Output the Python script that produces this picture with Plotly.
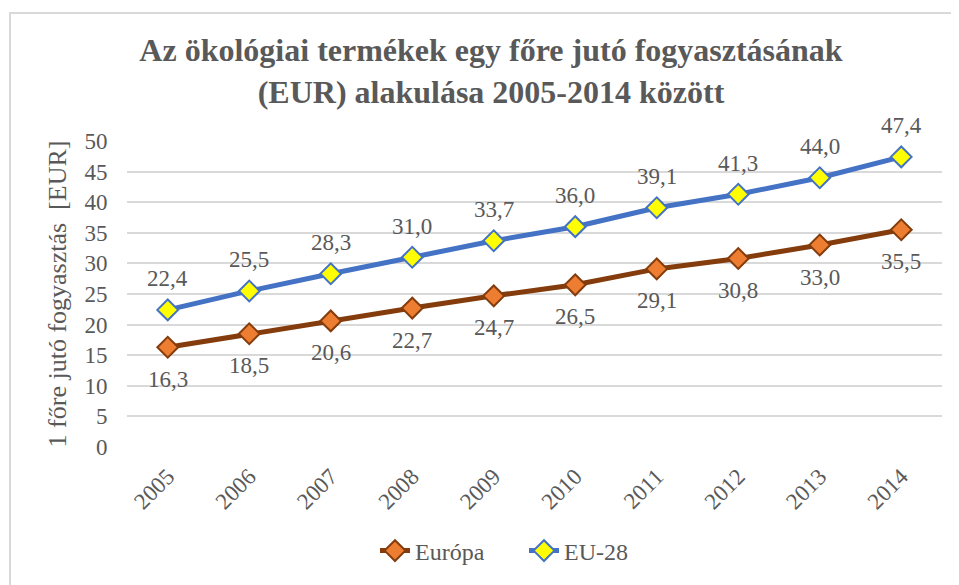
import plotly.graph_objects as go

years = ["2005", "2006", "2007", "2008", "2009", "2010", "2011", "2012", "2013", "2014"]
europa = [16.3, 18.5, 20.6, 22.7, 24.7, 26.5, 29.1, 30.8, 33.0, 35.5]
eu28 = [22.4, 25.5, 28.3, 31.0, 33.7, 36.0, 39.1, 41.3, 44.0, 47.4]
y_ticks = list(range(0, 55, 5))

FONT = "Times New Roman, Liberation Serif, Tinos, DejaVu Serif, serif"
GRAY = "#595959"

# page is offset by the default 8px body margin
OFF = 8
W, H = 959 - OFF, 585 - OFF
PL, PR, PT, PB = 127 - OFF, 942 - OFF, 141 - OFF, 447 - OFF
PW, PH = PR - PL, PB - PT

def fmt(v):
    return f"{v:.1f}".replace(".", ",")

fig = go.Figure()
fig.add_trace(go.Scatter(
    x=years, y=europa, name="Európa", mode="lines+markers",
    line=dict(color="#843c0c", width=5),
    marker=dict(symbol="diamond", size=16, color="#ed7d31",
                line=dict(color="#843c0c", width=2)),
))
fig.add_trace(go.Scatter(
    x=years, y=eu28, name="EU-28", mode="lines+markers",
    line=dict(color="#4472c4", width=5),
    marker=dict(symbol="diamond", size=16, color="#ffff00",
                line=dict(color="#4472c4", width=2)),
))

annotations = []
for i, v in enumerate(europa):
    annotations.append(dict(x=i, y=v, xref="x", yref="y", text=fmt(v), showarrow=False, yshift=-32,
                            font=dict(family=FONT, size=23, color=GRAY)))
for i, v in enumerate(eu28):
    annotations.append(dict(x=i, y=v, xref="x", yref="y", text=fmt(v), showarrow=False, yshift=31,
                            font=dict(family=FONT, size=23, color=GRAY)))

fig.update_layout(
    width=W, height=H,
    margin=dict(l=PL, r=W - PR, t=PT, b=H - PB, autoexpand=False),
    paper_bgcolor="white", plot_bgcolor="white",
    font=dict(family=FONT, color=GRAY, size=23),
    title=dict(
        text="<b>Az ökológiai termékek egy főre jutó fogyasztásának<br>(EUR) alakulása 2005-2014 között</b>",
        x=(491 - OFF) / W, xref="container", xanchor="center",
        y=1 - (61 - OFF) / H, yref="container", yanchor="middle",
        font=dict(family=FONT, size=32, color=GRAY),
    ),
    xaxis=dict(
        type="category", range=[-0.5, 9.5], tickangle=-45,
        showgrid=False, zeroline=False, showline=False, automargin=False,
        tickfont=dict(family=FONT, size=23, color=GRAY),
        ticks="outside", ticklen=6, tickcolor="rgba(0,0,0,0)",
    ),
    yaxis=dict(
        range=[0, 50], tickvals=y_ticks, ticktext=[str(t) for t in y_ticks],
        showgrid=True, gridcolor="#d9d9d9", gridwidth=2, zeroline=False,
        showline=False, automargin=False,
        ticks="outside", ticklen=14, tickcolor="rgba(0,0,0,0)",
        tickfont=dict(family=FONT, size=23, color=GRAY),
        title=dict(text="1 főre jutó fogyasztás  [EUR]", standoff=10,
                   font=dict(family=FONT, size=26, color=GRAY)),
    ),
    legend=dict(
        orientation="h", x=(375 - 127) / PW, xanchor="left",
        y=(447 - 551) / PH, yanchor="middle",
        font=dict(family=FONT, size=24, color=GRAY),
        entrywidth=104, entrywidthmode="pixels",
    ),
    annotations=annotations,
    shapes=[dict(type="rect", xref="paper", yref="paper",
                 x0=(10 - 127) / PW, x1=1.2, y0=-1.0, y1=(447 - 13) / PH,
                 line=dict(color="#d9d9d9", width=2), fillcolor="rgba(0,0,0,0)",
                 layer="below")],
)

fig.write_html("out.html")
